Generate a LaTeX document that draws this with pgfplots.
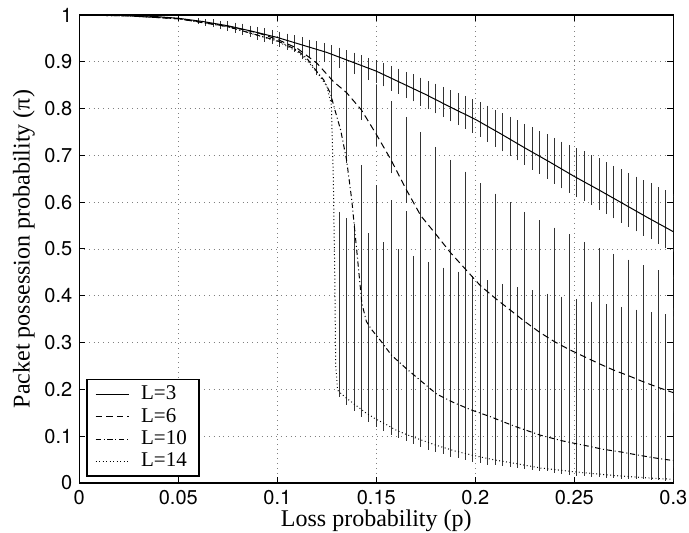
\documentclass[border=0pt]{standalone}
\usepackage{fontspec}
\setmainfont{Liberation Serif}
\setsansfont{TeX Gyre Heros}
\usepackage{pgfplots}
\usepackage{pgfplotstable}
\pgfplotsset{compat=1.18}

% mean curves
\pgfplotstableread{
x y
0 1.000
0.0125 0.9995
0.025 0.999
0.0375 0.997
0.05 0.993
0.0625 0.986
0.075 0.977
0.0875 0.965
0.1 0.952
0.1125 0.936
0.125 0.920
0.1375 0.900
0.15 0.880
0.1625 0.855
0.175 0.830
0.1875 0.803
0.2 0.777
0.2125 0.747
0.225 0.716
0.2375 0.686
0.25 0.655
0.2625 0.626
0.275 0.596
0.2875 0.566
0.3 0.537
}\lineA
\pgfplotstableread{
x y
0 1.000
0.025 0.998
0.05 0.992
0.075 0.976
0.09 0.962
0.1 0.948
0.11 0.929
0.12 0.897
0.1283 0.858
0.135 0.834
0.1425 0.797
0.15 0.745
0.1575 0.690
0.165 0.628
0.1725 0.571
0.18 0.532
0.1875 0.492
0.195 0.457
0.2025 0.422
0.21 0.395
0.2175 0.370
0.225 0.345
0.2325 0.322
0.24 0.302
0.2475 0.285
0.255 0.270
0.2625 0.255
0.27 0.241
0.2775 0.229
0.285 0.216
0.2925 0.204
0.3 0.193
}\lineB
\pgfplotstableread{
x y
0 1.000
0.025 0.998
0.05 0.992
0.075 0.975
0.1 0.945
0.11 0.925
0.115 0.907
0.12 0.879
0.1235 0.861
0.1268 0.833
0.1291 0.797
0.132 0.754
0.135 0.690
0.1376 0.605
0.1401 0.498
0.1427 0.384
0.145 0.345
0.1476 0.328
0.152 0.305
0.1577 0.273
0.165 0.245
0.172 0.220
0.1805 0.190
0.189 0.172
0.198 0.156
0.2074 0.142
0.22 0.121
0.233 0.102
0.244 0.090
0.2545 0.081
0.2646 0.072
0.274 0.066
0.283 0.059
0.293 0.052
0.3 0.048
}\lineC
\pgfplotstableread{
x y
0 1.000
0.025 0.998
0.05 0.992
0.075 0.975
0.1 0.944
0.11 0.922
0.115 0.903
0.12 0.878
0.125 0.848
0.1273 0.808
0.1283 0.650
0.129 0.450
0.1295 0.250
0.1305 0.198
0.1325 0.190
0.135 0.181
0.14 0.165
0.145 0.149
0.15 0.136
0.155 0.125
0.16 0.113
0.165 0.104
0.17 0.096
0.18 0.081
0.19 0.068
0.2 0.058
0.21 0.049
0.22 0.042
0.233 0.032
0.25 0.024
0.26 0.020
0.27 0.016
0.28 0.013
0.29 0.010
0.3 0.008
}\lineD

% error bars: x, value, plus, minus
\pgfplotstableread{
x y ep em
0.06 0.987 .003 .003
0.06375 0.984 .004 .004
0.0675 0.982 .005 .005
0.07125 0.979 .005 .006
0.075 0.977 .006 .007
0.07875 0.973 .007 .008
0.0825 0.970 .008 .009
0.08625 0.966 .008 .010
0.09 0.962 .009 .011
0.09375 0.958 .010 .012
0.0975 0.955 .010 .013
0.10125 0.950 .011 .014
0.105 0.946 .011 .015
0.10875 0.941 .012 .016
0.1125 0.936 .013 .016
0.11625 0.931 .013 .017
0.12 0.926 .014 .018
0.12375 0.922 .015 .018
0.1275 0.916 .016 .019
0.13125 0.910 .017 .020
0.135 0.904 .017 .020
0.13875 0.898 .018 .021
0.1425 0.892 .019 .021
0.14625 0.886 .019 .022
0.15 0.880 .020 .022
0.15375 0.873 .021 .022
0.1575 0.865 .023 .023
0.16125 0.858 .024 .023
0.165 0.850 .025 .024
0.16875 0.843 .027 .024
0.1725 0.835 .028 .025
0.17625 0.827 .029 .025
0.18 0.819 .031 .026
0.18375 0.811 .032 .026
0.1875 0.803 .033 .027
0.19125 0.795 .035 .027
0.195 0.788 .036 .028
0.19875 0.780 .037 .028
0.2025 0.771 .039 .028
0.20625 0.762 .041 .029
0.21 0.752 .042 .030
0.21375 0.743 .044 .031
0.2175 0.734 .045 .031
0.22125 0.725 .047 .032
0.225 0.716 .048 .033
0.22875 0.707 .050 .034
0.2325 0.698 .051 .034
0.23625 0.689 .053 .035
0.24 0.679 .055 .036
0.24375 0.670 .056 .037
0.2475 0.661 .058 .037
0.25125 0.652 .060 .038
0.255 0.644 .061 .038
0.25875 0.635 .062 .038
0.2625 0.626 .064 .039
0.26625 0.617 .065 .039
0.27 0.608 .066 .039
0.27375 0.599 .068 .039
0.2775 0.590 .069 .039
0.28125 0.581 .070 .040
0.285 0.572 .072 .040
0.28875 0.564 .073 .040
0.2925 0.555 .074 .040
0.29625 0.546 .076 .041
0.3 0.537 .077 .041
}\barsA
\pgfplotstableread{
x y ep em
0.075 0.976 .005 .005
0.0825 0.969 .006 .006
0.09 0.962 .008 .007
0.0975 0.952 .012 .008
0.105 0.940 .016 .009
0.1125 0.924 .022 .011
0.12 0.897 .035 .013
0.1275 0.862 .050 .015
0.135 0.834 .065 .017
0.1425 0.797 .078 .018
0.15 0.745 .102 .021
0.1575 0.690 .123 .025
0.165 0.628 .151 .026
0.1725 0.571 .176 .026
0.18 0.532 .183 .038
0.1875 0.492 .195 .043
0.195 0.457 .205 .047
0.2025 0.422 .215 .045
0.21 0.395 .220 .045
0.2175 0.370 .226 .045
0.225 0.345 .231 .045
0.2325 0.322 .236 .045
0.24 0.302 .240 .045
0.2475 0.285 .243 .044
0.255 0.270 .242 .043
0.2625 0.255 .244 .043
0.27 0.241 .245 .042
0.2775 0.229 .245 .042
0.285 0.216 .246 .041
0.2925 0.204 .247 .040
0.3 0.193 .247 .040
}\barsB
\pgfplotstableread{
x y ep em
0.075 0.975 .004 .004
0.0825 0.967 .006 .005
0.09 0.958 .008 .006
0.0975 0.948 .011 .007
0.105 0.936 .016 .007
0.1125 0.917 .025 .008
0.12 0.879 .060 .004
0.1275 0.825 .100 .007
0.135 0.690 .210 .003
0.1425 0.390 .286 .015
0.15 0.315 .318 .015
0.1575 0.274 .327 .015
0.165 0.245 .332 .014
0.1725 0.218 .335 .014
0.18 0.192 .338 .014
0.1875 0.176 .338 .014
0.195 0.161 .338 .014
0.2025 0.149 .338 .014
0.21 0.138 .338 .014
0.2175 0.126 .340 .014
0.225 0.114 .342 .013
0.2325 0.103 .342 .013
0.24 0.094 .336 .014
0.2475 0.087 .334 .013
0.255 0.081 .333 .013
0.2625 0.074 .330 .013
0.27 0.068 .328 .012
0.2775 0.063 .326 .012
0.285 0.058 .324 .012
0.2925 0.052 .324 .012
0.3 0.048 .322 .012
}\barsC
\pgfplotstableread{
x y ep em
0.13125 0.187 0.389 0
0.135 0.170 0.392 0
0.13875 0.157 0.394 0
0.1425 0.144 0.396 0
0.14625 0.133 0.397 0
0.15 0.124 0.396 0
0.15375 0.115 0.396 0
0.1575 0.106 0.397 0
0.16125 0.099 0.397 0
0.165 0.093 0.396 0
0.16875 0.086 0.396 0
0.1725 0.080 0.395 0
0.17625 0.074 0.395 0
0.18 0.069 0.394 0
0.18375 0.065 0.392 0
0.1875 0.060 0.392 0
0.19125 0.056 0.392 0
0.195 0.053 0.390 0
0.19875 0.049 0.389 0
0.2025 0.046 0.388 0
0.20625 0.042 0.388 0
0.21 0.041 0.385 0
0.21375 0.039 0.383 0
0.2175 0.037 0.382 0
0.22125 0.035 0.380 0
0.225 0.033 0.379 0
0.22875 0.031 0.377 0
0.2325 0.030 0.374 0
0.23625 0.028 0.373 0
0.24 0.025 0.373 0
0.24375 0.022 0.373 0
0.2475 0.021 0.371 0
0.25125 0.019 0.371 0
0.255 0.018 0.369 0
0.25875 0.017 0.367 0
0.2625 0.016 0.365 0
0.26625 0.015 0.363 0
0.27 0.014 0.362 0
0.27375 0.013 0.360 0
0.2775 0.012 0.358 0
0.28125 0.011 0.356 0
0.285 0.011 0.354 0
0.28875 0.010 0.352 0
0.2925 0.009 0.351 0
0.29625 0.008 0.349 0
0.3 0.008 0.346 0
}\barsD

\pgfplotsset{
  ebar/.style={forget plot, draw=none, mark=none,
    error bars/.cd, y dir=both, y explicit,
    error bar style={solid, draw=black!80, line width=0.45pt},
    error mark options={solid, draw=black!80, line width=0.45pt, mark size=0.8pt}},
}

\begin{document}
\begin{tikzpicture}
\begin{axis}[
  scale only axis,
  width=297pt, height=234pt,
  xmin=0, xmax=0.3, ymin=0, ymax=1,
  xtick={0,0.05,0.1,0.15,0.2,0.25,0.3},
  xticklabels={0,0.05,0.1,0.15,0.2,0.25,0.3},
  ytick={0,0.1,0.2,0.3,0.4,0.5,0.6,0.7,0.8,0.9,1},
  yticklabels={0,0.1,0.2,0.3,0.4,0.5,0.6,0.7,0.8,0.9,1},
  tick label style={font=\sffamily\fontsize{10}{12}\selectfont},
  tick align=inside,
  major tick length=3pt,
  axis line style={line width=0.7pt},
  every tick/.style={black, line width=0.5pt},
  grid=major,
  grid style={dotted, black!50, line width=0.4pt},
  xlabel={Loss probability (p)},
  ylabel={Packet possession probability (π)},
  label style={font=\fontsize{12}{14}\selectfont},
  xlabel style={yshift=4pt},
  ylabel style={yshift=-2pt},
  legend style={at={(rel axis cs:0,0)}, anchor=south west, xshift=3.5pt, yshift=3pt,
    font=\fontsize{10.5}{11}\selectfont, draw=black, line width=0.8pt,
    inner xsep=4pt, inner ysep=1.2pt, row sep=-1.3pt, cells={anchor=west},
    /tikz/every odd column/.append style={column sep=4pt}},
  legend image code/.code={\draw[#1, line width=0.5pt] (0pt,0pt) -- (16.5pt,0pt);},
]
\addplot[ebar] table[x=x, y=y, y error plus=ep, y error minus=em] {\barsD};
\addplot[ebar] table[x=x, y=y, y error plus=ep, y error minus=em] {\barsC};
\addplot[ebar] table[x=x, y=y, y error plus=ep, y error minus=em] {\barsB};
\addplot[ebar] table[x=x, y=y, y error plus=ep, y error minus=em] {\barsA};

\addplot[black, line width=0.5pt, solid] table[x=x, y=y] {\lineA};
\addlegendentry{L=3}
\addplot[black, line width=0.5pt, dash pattern=on 3.3pt off 2pt] table[x=x, y=y] {\lineB};
\addlegendentry{L=6}
\addplot[black, line width=0.5pt, dash pattern=on 2.6pt off 1.4pt on 0.5pt off 1.4pt] table[x=x, y=y] {\lineC};
\addlegendentry{L=10}
\addplot[black, line width=0.5pt, dash pattern=on 0.45pt off 1.3pt] table[x=x, y=y] {\lineD};
\addlegendentry{L=14}
\end{axis}
\pgfresetboundingbox
\path (-39.65pt,-25pt) rectangle (304.85pt,241.5pt);
\end{tikzpicture}
\end{document}
